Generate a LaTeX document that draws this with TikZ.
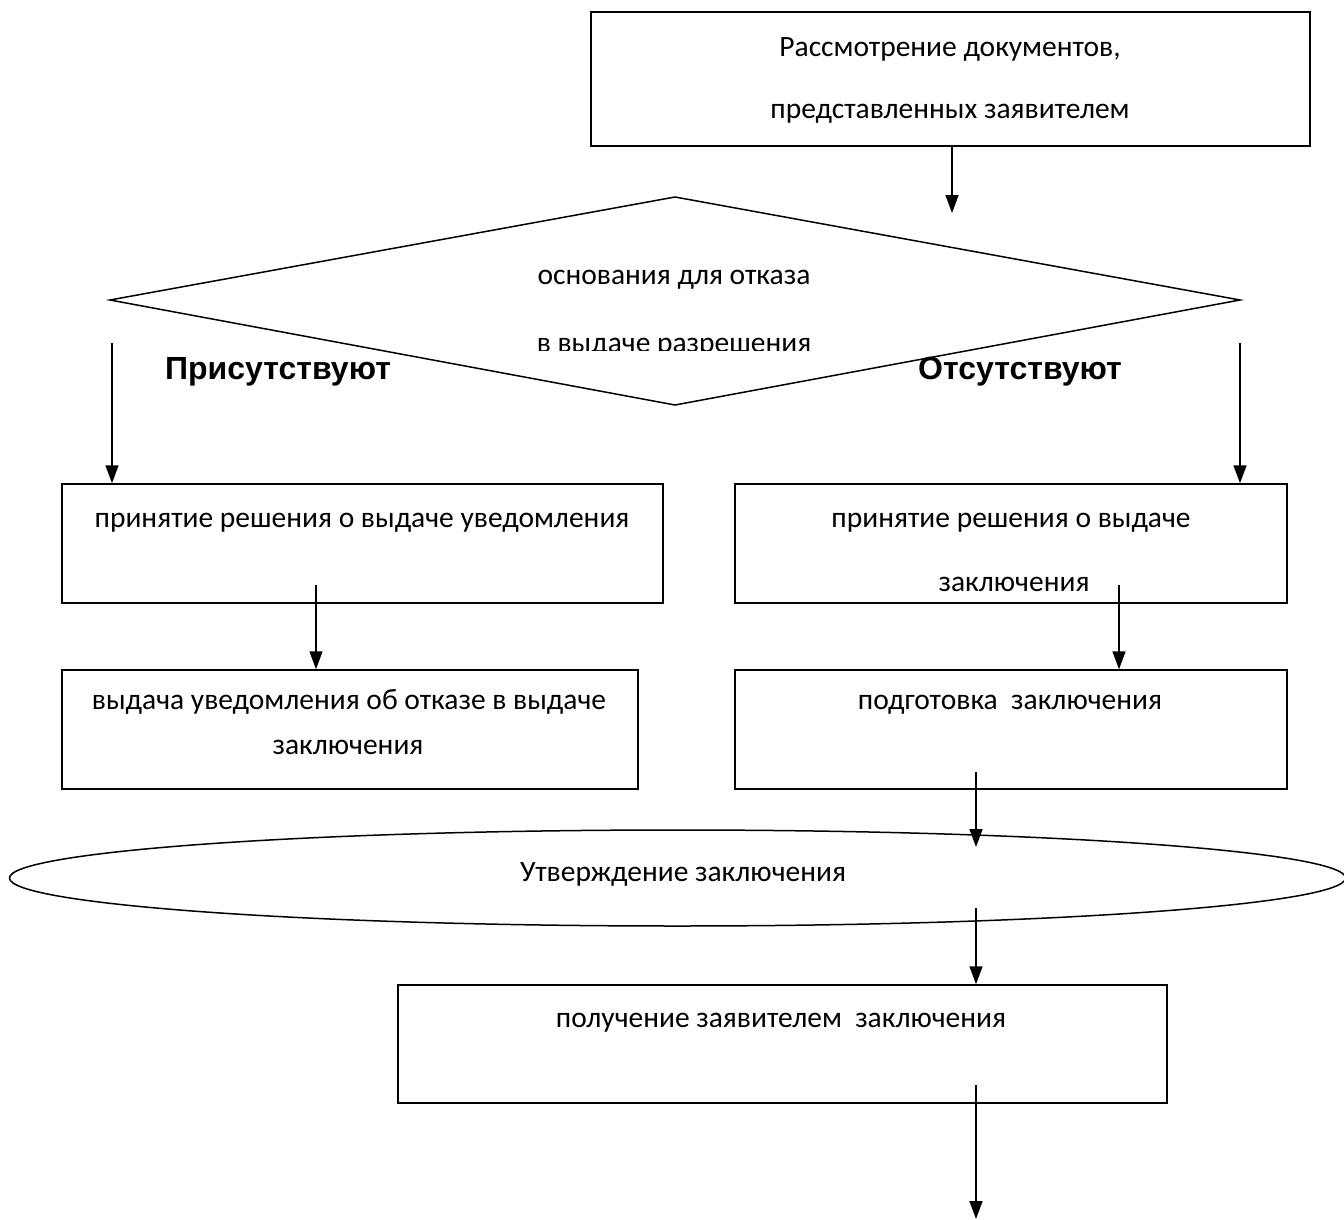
\documentclass[tikz,border=0pt]{standalone}
\usepackage{fontspec}
\setmainfont{Carlito}
\newfontfamily\arialfont{Liberation Sans}
\usetikzlibrary{arrows.meta,shapes.geometric}
\begin{document}
\begin{tikzpicture}[x=1pt,y=-1pt,
  line width=1.5pt,
  box/.style={draw,line width=1.5pt,rectangle,inner sep=0pt},
  txt/.style={font=\fontsize{29.5}{34}\selectfont,inner sep=0pt,anchor=base},
  lbl/.style={font=\arialfont\bfseries\fontsize{32}{36}\selectfont,inner sep=0pt,anchor=base},
  arr/.style={-{Triangle[length=18pt,width=13pt]},line width=1.5pt}]
\useasboundingbox (0,0) rectangle (1344,1220);
% top box
\node[box,minimum width=719pt,minimum height=134pt] (top) at (950.5,79) {};
\node[txt] (t1) at (950,57) {Рассмотрение документов,};
\node[txt] (t2) at (950,119) {представленных заявителем};
% diamond
\coordinate (dl) at (110,300);
\coordinate (dt) at (675,197);
\coordinate (dr) at (1240,300);
\coordinate (db) at (675,405);
\draw[line width=1.5pt] (dl) -- (dt) -- (dr) -- (db) -- cycle;
\node[txt] (d1) at (674,284) {основания для отказа};
\begin{scope}
\clip (300,300) rectangle (1000,350);
\node[txt] (d2) at (674,352) {в выдаче разрешения};
\end{scope}
% labels
\node[lbl] (yes) at (278,379) {Присутствуют};
\node[lbl] (no) at (1020,379) {Отсутствуют};
% boxes row 1
\node[box,minimum width=601pt,minimum height=119pt] (A) at (362.5,543.5) {};
\node[txt] (a1) at (362,527) {принятие решения о выдаче уведомления};
\node[box,minimum width=552pt,minimum height=119pt] (B) at (1011,543.5) {};
\node[txt] (b1) at (1011,527) {принятие решения о выдаче};
\node[txt] (b2) at (1014,591) {заключения};
% boxes row 2
\node[box,minimum width=576pt,minimum height=119pt] (C) at (350,729.5) {};
\node[txt] (c1) at (349,709) {выдача уведомления об отказе в выдаче};
\node[txt] (c2) at (348,754) {заключения};
\node[box,minimum width=552pt,minimum height=119pt] (D) at (1011,729.5) {};
\node[txt] (dd1) at (1010,709) {подготовка\ \ заключения};
% ellipse
\node[draw,ellipse,line width=1.5pt,minimum width=1336pt,minimum height=96pt,inner sep=0pt] (E) at (677.5,878) {};
\node[txt] (e1) at (683,881) {Утверждение заключения};
% last box
\node[box,minimum width=769pt,minimum height=118pt] (F) at (782.5,1044) {};
\node[txt] (f1) at (781,1027) {получение заявителем\ \ заключения};
% connector coordinates
\coordinate (p0) at (952,213);
\coordinate (pl0) at (112,343);
\coordinate (pr0) at (1240,343);
\coordinate (pa0) at (316,585);
\coordinate (pb0) at (1119,585);
\coordinate (pd0) at (976,772);
\coordinate (pd1) at (976,847);
\coordinate (pe0) at (976,908);
\coordinate (pf0) at (976,1085);
\coordinate (pend) at (976,1219);
% connectors
\draw[arr] (top.south -| p0) -- (p0);
\draw[arr] (pl0) -- (A.north -| pl0);
\draw[arr] (pr0) -- (B.north -| pr0);
\draw[arr] (pa0) -- (C.north -| pa0);
\draw[arr] (pb0) -- (D.north -| pb0);
\draw[arr] (pd0) -- (pd1);
\draw[arr] (pe0) -- (F.north -| pe0);
\draw[arr] (pf0) -- (pend);
\end{tikzpicture}
\end{document}
